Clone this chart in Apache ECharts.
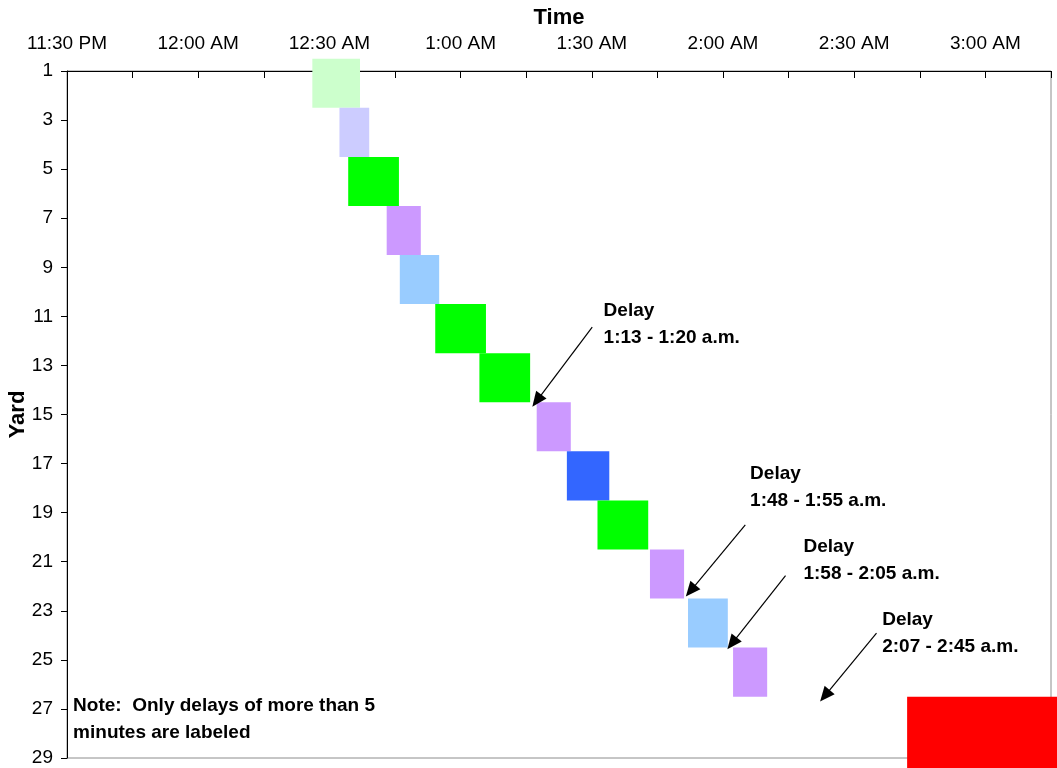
<!DOCTYPE html>
<html>
<head>
<meta charset="utf-8">
<script src="https://cdn.jsdelivr.net/npm/echarts@6/dist/echarts.min.js"></script>
<style>
html,body{margin:0;padding:0;background:#fff;}
#chart{width:1057px;height:768px;}
</style>
</head>
<body>
<div id="chart"></div>
<script>
// Time values are minutes after 11:30 PM
const timeTickLabels = ['11:30 PM','12:00 AM','12:30 AM','1:00 AM','1:30 AM','2:00 AM','2:30 AM','3:00 AM'];
const startMin  = [56.1, 62.3, 64.3, 73.1, 76.1, 84.2, 94.3, 107.4, 114.3, 121.3, 133.3, 142.0, 152.3, 192.1];
const endMin    = [67.0, 69.1, 75.9, 80.9, 85.1, 95.8, 105.9, 115.2, 124.0, 132.9, 141.1, 151.1, 160.1, 240];
const yardTop   = [0.5, 2.5, 4.5, 6.5, 8.5, 10.5, 12.5, 14.5, 16.5, 18.5, 20.5, 22.5, 24.5, 26.5];
const yardBottom= [2.5, 4.5, 6.5, 8.5, 10.5, 12.5, 14.5, 16.5, 18.5, 20.5, 22.5, 24.5, 26.5, 30.5];
const fillColors= ['#CCFFCC','#CCCCFF','#00FF00','#CC99FF','#99CCFF','#00FF00','#00FF00','#CC99FF','#3366FF','#00FF00','#CC99FF','#99CCFF','#CC99FF','#FF0000'];

// Annotation arrows (from -> to), in minutes / yards
const arrowFromMin = [120.1, 155.1, 164.3, 185.1];
const arrowFromYard= [11.44, 19.50, 21.57, 23.91];
const arrowToMin   = [106.4, 141.5, 151.0, 172.2];
const arrowToYard  = [14.68, 22.42, 24.57, 26.70];

// Annotation texts (left edge in minutes, vertical middle in yards)
const noteMin  = [122.7, 156.2, 168.4, 186.4, 1.4];
const noteYard = [11.31, 17.95, 20.94, 23.92, 27.43];
const noteText = ['Delay\n1:13 - 1:20 a.m.', 'Delay\n1:48 - 1:55 a.m.', 'Delay\n1:58 - 2:05 a.m.', 'Delay\n2:07 - 2:45 a.m.', 'Note:  Only delays of more than 5\nminutes are labeled'];

const FONT = '"Liberation Sans", Arial, sans-serif';

const rectData = startMin.map((s, i) => [s, endMin[i], yardTop[i], yardBottom[i]]);
const arrowData = arrowFromMin.map((x, i) => [x, arrowFromYard[i], arrowToMin[i], arrowToYard[i]]);
const textData = noteMin.map((x, i) => [x, noteYard[i]]);

const chart = echarts.init(document.getElementById('chart'));
chart.setOption({
  animation: false,
  backgroundColor: '#fff',
  grid: {left: 67, top: 71, width: 984, height: 687, containLabel: false, outerBoundsMode: 'none',
         show: true, borderColor: '#8c8c8c', borderWidth: 1, backgroundColor: '#fff'},
  xAxis: {
    type: 'value', position: 'top', min: 0, max: 225, interval: 15,
    name: 'Time', nameLocation: 'middle', nameGap: 42, nameMoveOverlap: false,
    nameTextStyle: {fontFamily: FONT, fontSize: 22, fontWeight: 'bold', color: '#000'},
    axisLine: {show: true, lineStyle: {color: '#000', width: 1}},
    axisTick: {show: true, inside: true, length: 7, lineStyle: {color: '#000'}},
    splitLine: {show: false},
    axisLabel: {
      fontFamily: FONT, fontSize: 19, color: '#000', margin: 18, showMaxLabel: true, showMinLabel: true,
      formatter: v => (Math.abs(v % 30) < 1e-6 && timeTickLabels[v / 30] !== undefined) ? timeTickLabels[v / 30] : ''
    }
  },
  yAxis: {
    type: 'value', inverse: true, min: 1, max: 29, interval: 2,
    name: 'Yard', nameLocation: 'middle', nameGap: 38, nameRotate: 90, nameMoveOverlap: false,
    nameTextStyle: {fontFamily: FONT, fontSize: 22, fontWeight: 'bold', color: '#000'},
    axisLine: {show: true, lineStyle: {color: '#000', width: 1}},
    axisTick: {show: true, inside: false, length: 6, lineStyle: {color: '#000'}},
    splitLine: {show: false},
    axisLabel: {fontFamily: FONT, fontSize: 19, color: '#000', margin: 14}
  },
  series: [
    {
      type: 'custom', clip: false, z: 3,
      data: rectData,
      renderItem: function (params, api) {
        const p0 = api.coord([api.value(0), api.value(2)]);
        const p1 = api.coord([api.value(1), api.value(3)]);
        return {type: 'rect', shape: {x: p0[0], y: p0[1], width: p1[0] - p0[0], height: p1[1] - p0[1]},
                style: {fill: fillColors[params.dataIndex]}};
      }
    },
    {
      type: 'custom', clip: false, z: 4,
      data: arrowData,
      renderItem: function (params, api) {
        const a = api.coord([api.value(0), api.value(1)]);
        const b = api.coord([api.value(2), api.value(3)]);
        const dx = b[0] - a[0], dy = b[1] - a[1];
        const len = Math.sqrt(dx * dx + dy * dy);
        const ux = dx / len, uy = dy / len;
        const nx = -uy, ny = ux;
        const L = 15, W = 6.5;
        const bx = b[0] - ux * L, by = b[1] - uy * L;
        return {type: 'group', children: [
          {type: 'line', shape: {x1: a[0], y1: a[1], x2: bx + ux * 2, y2: by + uy * 2}, style: {stroke: '#000', lineWidth: 1.2}},
          {type: 'polygon', shape: {points: [[b[0], b[1]], [bx + nx * W, by + ny * W], [bx - nx * W, by - ny * W]]}, style: {fill: '#000'}}
        ]};
      }
    },
    {
      type: 'custom', clip: false, z: 5,
      data: textData,
      renderItem: function (params, api) {
        const p = api.coord([api.value(0), api.value(1)]);
        return {type: 'text', x: p[0], y: p[1], style: {
          text: noteText[params.dataIndex], fill: '#000', fontFamily: FONT, fontSize: 19, fontWeight: 'bold',
          lineHeight: 27, align: 'left', verticalAlign: 'middle'}};
      }
    }
  ]
});
</script>
</body>
</html>
